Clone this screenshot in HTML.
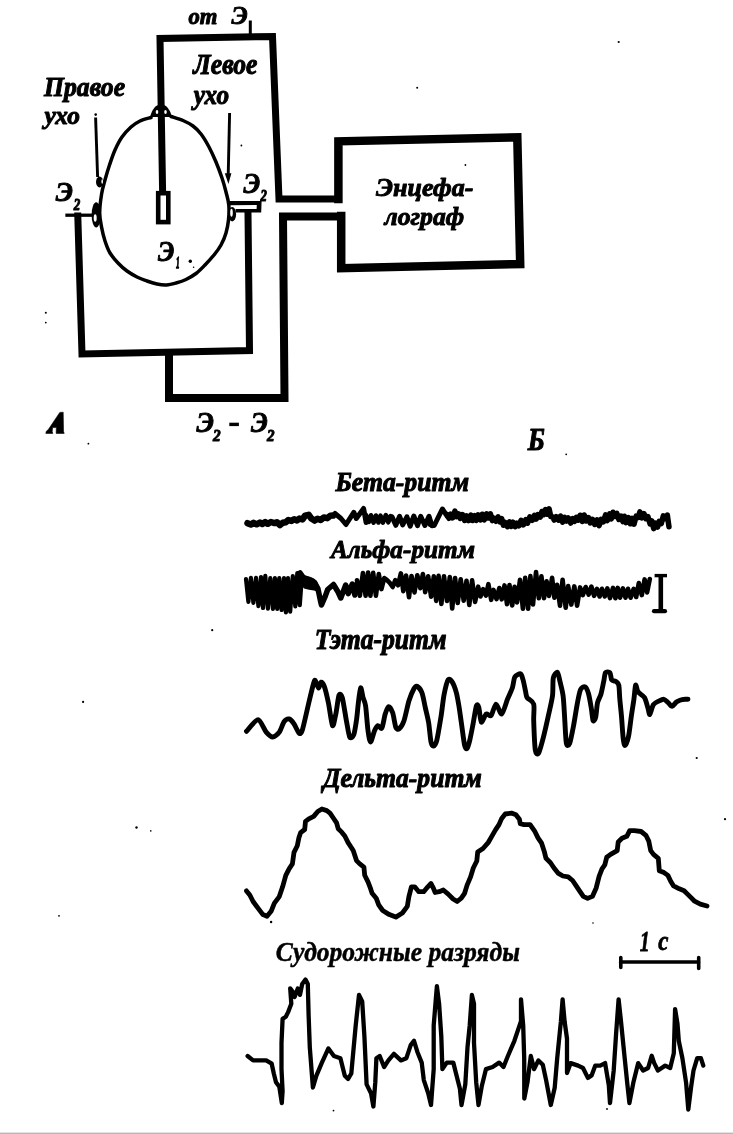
<!DOCTYPE html>
<html><head><meta charset="utf-8"><title>EEG</title>
<style>
html,body{margin:0;padding:0;background:#fff;}
body{width:733px;height:1134px;overflow:hidden;position:relative;}
svg{position:absolute;left:0;top:0;}
text{font-family:"Liberation Serif",serif;font-weight:bold;font-style:italic;fill:#000;}
.w{fill:none;stroke:#000;stroke-linejoin:round;stroke-linecap:round;}
</style></head><body>
<svg width="733" height="1134" viewBox="0 0 733 1134">
<path fill="none" stroke="#000" stroke-linejoin="miter" stroke-linecap="square" stroke-width="7" d="M162.6,191 L160,38.5 L272.5,36.5 L279,199 L336,199"/>
<path fill="none" stroke="#000" stroke-linejoin="miter" stroke-linecap="square" stroke-width="3" d="M250.3,22 L250.3,34"/>
<path fill="none" stroke="#000" stroke-linejoin="miter" stroke-linecap="square" stroke-width="8.5" d="M338.4,199 L338.4,141.3 L517.3,137.3 L520.2,264 L341.2,268.2 L341.2,216"/>
<path fill="none" stroke="#000" stroke-linejoin="miter" stroke-linecap="square" stroke-width="8" d="M341,216.4 L283,216.4 L284.5,398 L169,398 L169,354"/>
<path fill="none" stroke="#000" stroke-linejoin="miter" stroke-linecap="square" stroke-width="7" d="M77.8,216 L82,354 L249.5,350.5 L248,213.5"/>
<path fill="none" stroke="#000" stroke-width="3.5" stroke-linecap="round" d="M151.0,117.5 C149.2,118.1 143.3,119.4 140.0,121.0 C136.7,122.6 134.0,124.3 131.0,127.0 C128.0,129.7 124.7,133.2 122.0,137.0 C119.3,140.8 117.1,145.3 115.0,150.0 C112.9,154.7 111.2,160.0 109.5,165.0 C107.8,170.0 106.3,175.2 105.0,180.0 C103.7,184.8 102.5,188.5 101.6,194.0 C100.7,199.5 99.7,207.4 99.7,213.0 C99.7,218.6 100.7,222.6 101.6,227.3 C102.5,232.0 103.6,236.7 105.0,241.0 C106.4,245.3 107.8,249.3 110.0,253.0 C112.2,256.7 115.2,260.0 118.0,263.0 C120.8,266.0 123.8,268.7 127.0,271.0 C130.2,273.3 133.7,275.3 137.0,277.0 C140.3,278.7 143.7,279.8 147.0,281.0 C150.3,282.2 153.8,283.3 157.0,284.0 C160.2,284.7 163.3,285.2 166.5,285.0 C169.7,284.8 172.8,283.9 176.0,283.0 C179.2,282.1 182.7,281.1 186.0,279.5 C189.3,277.9 192.8,275.9 196.0,273.5 C199.2,271.1 202.0,268.1 205.0,265.0 C208.0,261.9 211.3,258.3 214.0,255.0 C216.7,251.7 219.0,248.7 221.0,245.0 C223.0,241.3 224.8,237.2 226.0,233.0 C227.2,228.8 228.0,224.7 228.5,220.0 C229.0,215.3 229.2,209.7 228.8,205.0 C228.4,200.3 227.1,196.5 226.0,192.0 C224.9,187.5 223.7,183.0 222.0,178.0 C220.3,173.0 218.2,167.2 216.0,162.0 C213.8,156.8 211.5,151.7 209.0,147.0 C206.5,142.3 203.7,137.5 201.0,134.0 C198.3,130.5 196.0,128.2 193.0,126.0 C190.0,123.8 186.7,122.1 183.0,120.5 C179.3,118.9 173.0,117.2 171.0,116.5"/>
<path fill="#000" d="M150,117 C152,110 155,104.5 161,104.5 C167,104.5 170,110 172,117 Z"/>
<ellipse cx="157" cy="112" rx="1.3" ry="2" fill="#fff"/><ellipse cx="165.5" cy="112" rx="1.3" ry="2" fill="#fff"/>
<rect x="158.2" y="193.2" width="10.1" height="28.9" fill="#fff" stroke="#000" stroke-width="4.6"/>
<path fill="none" stroke="#000" stroke-width="2.9" d="M95.6,117.5 L97.6,177"/>
<circle cx="95.7" cy="114.6" r="1.3" fill="#000"/>
<ellipse cx="99.6" cy="182" rx="3.6" ry="5.4" fill="#000"/>
<ellipse cx="102.2" cy="181.5" rx="0.8" ry="2.2" fill="#fff"/>
<path fill="none" stroke="#000" stroke-width="2.9" d="M229.6,113 L228.2,176"/>
<path fill="#000" d="M224.8,173.2 L231.4,173.2 L228.4,184 Z"/>
<circle cx="241.4" cy="145.5" r="0.9" fill="#000"/>
<path fill="none" stroke="#000" stroke-linejoin="miter" stroke-linecap="square" stroke-width="3.3" d="M67,215.2 L92,215.2"/>
<ellipse cx="96.2" cy="214.8" rx="4.6" ry="12.6" fill="#000"/>
<ellipse cx="95.2" cy="218" rx="1.5" ry="3.8" fill="#fff"/>
<path fill="#000" d="M229.4,200.9 L261.6,200.9 L261.2,212.4 L235.6,212.6 L235.6,209 L256.6,209 L256.8,205 L229.6,205.2 Z"/>
<ellipse cx="232.2" cy="214.2" rx="3.9" ry="7.2" fill="#000"/>
<ellipse cx="231.5" cy="212.8" rx="1.3" ry="4" fill="#fff"/>
<rect x="229.3" y="422.7" width="9.6" height="3.4" fill="#000"/>
<path fill="#000" stroke="#000" stroke-width="0.6" stroke-linejoin="round" d="M45.8,433.4 L46.3,431.3 L48.3,429.6 L59.8,412.4 L63.2,412.2 L63.5,431.2 L64.2,433.4 L56.2,433.4 L56.2,431.6 L56.4,427.6 L52.6,427.6 L52.2,431.6 L52.8,433.4 Z"/>
<circle cx="190.3" cy="261.3" r="1.7" fill="#000"/><circle cx="193.6" cy="267.2" r="0.8" fill="#000"/>
<circle cx="45.8" cy="312.7" r="1.0" fill="#000"/>
<circle cx="45.8" cy="322.6" r="0.9" fill="#000"/>
<circle cx="88.4" cy="443.7" r="0.9" fill="#000"/>
<circle cx="83.1" cy="701.9" r="1.1" fill="#000"/>
<circle cx="212.2" cy="630.2" r="1.1" fill="#000"/>
<circle cx="136.5" cy="827.5" r="1.2" fill="#000"/>
<circle cx="150.8" cy="830.9" r="0.8" fill="#000"/>
<circle cx="59.0" cy="915.8" r="0.9" fill="#000"/>
<circle cx="618.7" cy="42.0" r="1.1" fill="#000"/>
<circle cx="417.2" cy="87.8" r="1.0" fill="#000"/>
<circle cx="465.4" cy="165.0" r="0.9" fill="#000"/>
<circle cx="566.2" cy="454.3" r="0.9" fill="#000"/>
<circle cx="696.7" cy="758.0" r="1.1" fill="#000"/>
<circle cx="725.0" cy="819.2" r="1.1" fill="#000"/>
<circle cx="593.0" cy="923.0" r="0.8" fill="#000"/>
<circle cx="607.0" cy="1109.0" r="0.9" fill="#000"/>
<circle cx="271.1" cy="922.0" r="1.2" fill="#000"/>
<circle cx="333.5" cy="1110.6" r="0.9" fill="#000"/>
<path class="w" stroke-width="6.5" d="M247.5,523.2 L250.9,524.6 L253.6,522.8 L256.6,524.3 L259.9,522.5 L262.3,524.0 L265.3,522.1 L267.7,523.8 L270.9,522.0 L274.5,523.1 L276.9,522.2 L280.0,525.1 L282.8,522.8 L285.7,522.3 L288.4,520.0 L291.4,520.9 L294.1,519.3 L297.0,520.4 L299.4,518.6 L302.5,519.4 L305.1,515.6 L308.6,514.8 L311.4,518.6 L314.6,520.6 L317.5,518.7 L320.7,520.0 L323.8,517.4 L327.2,518.2 L330.3,515.7 L333.0,515.6"/>
<path class="w" stroke-width="5" d="M335.0,513.5 L341.0,518.5 L346.0,524.5 L353.8,512.3 L356.3,518.5 L363.6,508.5 L366.1,522.5"/>
<path class="w" stroke-width="4.6" d="M366.0,515.1 L368.9,521.9 L370.9,515.3 L373.6,522.6 L375.9,515.5 L378.4,522.5 L380.5,515.7 L382.9,522.6 L385.8,515.1 L388.3,522.3 L390.5,516.1"/>
<path class="w" stroke-width="5" d="M392.0,516.9 L395.8,525.3 L399.6,516.3 L402.7,524.8 L406.9,516.8 L410.2,526.2 L413.8,516.0 L417.5,525.7 L420.7,516.3 L424.9,525.5 L429.0,516.3 L432.0,525.8"/>
<path class="w" stroke-width="5" d="M430.0,524.5 L434.2,525.5 L442.4,509.0 L447.3,516.4"/>
<path class="w" stroke-width="5.5" d="M447.3,514.6 L449.0,518.3 L450.7,514.2 L452.6,517.9 L454.9,511.0 L456.6,516.6 L458.5,513.8 L460.2,518.4 L462.5,514.7 L464.7,520.5 L466.5,515.8 L468.6,520.6 L470.9,515.0 L472.5,520.5 L474.7,515.7 L476.4,520.3 L478.1,514.8 L480.4,520.0 L482.2,514.2 L484.3,519.9 L486.6,513.8 L488.5,518.0 L490.4,513.8 L492.3,520.6 L493.9,518.1 L496.0,521.3 L498.1,516.8 L499.9,521.9 L501.7,518.6 L503.4,525.3 L505.3,522.5 L507.5,526.7 L509.5,521.8 L511.2,526.4 L513.0,522.2 L515.1,526.7 L516.9,523.1 L518.9,525.8 L521.1,520.3 L523.4,524.9 L525.8,519.5 L527.6,523.2 L529.8,516.8 L532.2,520.3 L534.4,515.3 L536.2,519.1 L537.9,514.5 L540.3,517.0 L541.9,511.5 L543.6,514.7 L545.5,509.5 L547.2,514.2 L549.1,508.8 L550.8,516.6 L552.5,516.8 L554.2,520.1 L556.2,516.6 L558.6,520.2 L560.6,516.0 L562.6,522.1 L564.6,517.4 L566.5,521.0 L568.4,518.0 L570.7,523.1 L572.7,518.5 L574.5,521.4 L576.3,517.3 L578.6,520.2 L580.2,515.2 L582.3,521.4 L584.2,515.0 L586.3,521.0 L588.5,517.6 L590.2,522.9 L592.5,519.4 L594.8,524.5 L597.0,519.8 L599.1,525.6 L601.1,519.3 L603.3,521.9 L605.6,514.9 L607.3,520.6 L609.6,513.9 L611.3,518.9 L613.0,512.2 L615.1,516.5 L616.8,513.3 L618.9,519.5 L621.2,516.1 L622.8,521.6 L624.4,516.2 L626.1,522.7 L628.4,517.5 L630.4,523.8 L632.2,518.4 L634.0,524.2 L636.2,516.1 L638.3,517.3 L639.9,511.8 L641.9,517.8 L644.0,513.7 L645.9,518.7 L647.9,516.6 L650.1,523.9 L651.8,520.8 L653.7,528.6 L655.6,523.2 L657.6,527.1 L659.2,521.4 L661.3,523.6 L663.3,515.9 L665.6,518.6 L667.3,515.0 L669.0,526.8"/>
<path class="w" stroke-width="4.2" d="M246.0,579.1 L248.4,601.9 L250.9,577.9 L253.4,602.8 L256.0,577.9 L258.4,606.1 L261.0,577.0 L263.0,608.0 L265.3,575.8 L267.9,608.6 L270.3,578.1 L272.9,608.9 L274.9,578.1 L277.2,608.9 L279.3,578.1 L281.6,610.0 L284.0,578.1 L285.9,612.3 L288.0,578.1 L290.2,611.7 L292.8,576.2 L295.3,606.4 L297.3,573.1 L299.8,605.2 L301.9,576.0"/>
<path class="w" stroke-width="5.5" d="M300.0,573.0 L303.2,577.3 L309.7,580.0 L314.6,582.5 L317.9,588.5 L320.4,600.5 L321.5,605.0 L325.3,596.1 L327.7,589.5 L333.5,584.5 L337.6,591.2 L340.8,598.0 L345.7,585.0 L348.2,593.6 L352.3,584.0 L354.9,595.0 L357.4,583.0"/>
<path fill="#000" d="M302,575.5 L306,576 L310,576.8 L314,578.5 L317,581.5 L319.5,588 L318,592 L314,590.5 L309,589.8 L304,588.5 L302,586 Z"/>
<path class="w" stroke-width="4.6" d="M357.0,580.3 L359.9,595.7 L362.9,573.0 L365.6,595.7 L368.1,572.5 L370.4,595.7 L373.2,572.9 L375.9,595.7 L378.8,574.1 L381.4,589.1 L384.3,578.0 L386.8,579.8 L389.8,582.9 L392.7,587.0 L395.3,580.1 L398.0,585.3 L400.9,573.4 L403.3,591.2 L406.1,575.5 L409.0,597.3 L411.5,576.0 L414.5,592.4 L417.3,575.2 L420.3,588.2 L422.9,574.0 L425.2,592.1 L428.2,576.3 L431.1,596.6 L433.8,576.2 L436.2,600.9 L438.6,575.9 L441.4,603.9 L444.0,576.2 L447.0,600.9 L449.8,577.0 L452.2,608.5 L455.1,578.0 L457.7,603.0 L460.7,579.3 L463.7,600.8 L466.5,580.7 L469.3,605.0 L472.1,580.4 L475.1,601.9 L478.2,586.7 L480.5,596.5 L483.1,589.2 L485.9,595.6 L488.4,584.2 L491.2,599.8 L493.5,589.9 L496.5,599.1 L499.3,588.0 L501.7,599.3 L504.5,585.4 L507.0,604.2 L509.5,585.0 L512.2,605.5 L514.6,586.9 L517.0,602.5 L520.0,579.9 L522.9,608.8 L525.2,577.9 L528.1,608.8 L530.4,576.1 L533.0,604.5 L536.0,572.1 L538.8,598.2 L541.4,576.2 L544.0,598.2 L546.6,581.3 L549.0,595.9 L552.1,577.8 L554.4,597.8 L557.1,584.8 L560.0,605.7 L562.6,579.8 L565.7,607.7 L568.2,586.1 L571.3,604.6 L574.3,586.4 L577.1,605.6 L580.1,587.4 L582.8,595.1 L585.7,587.0 L588.7,594.6 L591.4,586.6 L594.1,595.8 L596.9,588.8 L599.6,596.5 L601.9,588.8 L604.8,596.3 L607.3,588.4 L610.0,598.1 L613.0,587.9 L615.4,598.2 L617.7,587.9 L620.1,597.7 L622.9,588.4 L625.5,597.7 L628.0,588.8 L630.6,597.7 L633.7,588.8 L636.2,597.0 L638.8,583.1 L641.8,595.1 L644.6,579.4 L647.1,592.4 L649.8,579.0"/>
<path fill="none" stroke="#000" stroke-width="3.4" stroke-linecap="butt" d="M654.6,575.6 L667,575.6"/><path fill="none" stroke="#000" stroke-width="4.6" stroke-linecap="butt" d="M660.8,575 L660.8,611"/><path fill="none" stroke="#000" stroke-width="4.2" stroke-linecap="round" d="M654,611.2 L665,611.2"/>
<path class="w" stroke-width="4.9" d="M246.5,731.3 C248.0,729.8 255.4,719.7 258.0,719.8 C260.6,719.9 264.2,729.8 266.2,732.1 C268.2,734.4 271.0,737.0 272.7,737.0 C274.4,737.0 277.8,734.2 279.3,732.1 C280.8,730.0 282.9,723.2 284.2,721.5 C285.5,719.8 287.8,718.7 289.1,719.0 C290.4,719.3 292.7,722.0 294.0,723.9 C295.3,725.8 297.9,732.1 299.0,733.0 C300.1,733.9 300.9,734.5 302.2,730.5 C303.5,726.5 307.3,709.0 308.8,702.7 C310.3,696.4 312.8,685.9 313.7,683.0 C314.6,680.1 314.6,679.9 315.3,680.6 C316.0,681.3 317.8,687.8 318.6,688.0 C319.4,688.2 320.2,682.4 321.0,682.2 C321.8,682.0 323.3,683.6 324.3,686.3 C325.3,689.0 327.3,697.5 328.4,702.7 C329.5,707.9 331.5,724.1 332.5,725.6 C333.5,727.1 334.9,718.1 335.8,714.1 C336.7,710.1 338.1,697.5 339.0,695.3 C339.9,693.1 341.3,694.3 342.3,697.7 C343.3,701.1 345.4,715.5 346.4,720.7 C347.4,725.9 348.7,735.1 349.7,737.0 C350.7,738.9 352.9,736.9 353.8,734.6 C354.7,732.3 355.9,724.0 356.5,720.0 C357.1,716.0 357.7,708.6 358.2,704.3 C358.7,700.0 359.9,688.8 360.6,687.9 C361.3,687.0 362.4,695.3 363.1,697.7 C363.8,700.1 364.9,701.5 365.6,705.9 C366.3,710.3 367.3,725.7 368.0,730.5 C368.7,735.3 369.6,742.0 370.5,742.0 C371.4,742.0 373.6,732.7 374.6,730.5 C375.6,728.3 376.8,725.9 377.8,725.6 C378.8,725.3 380.9,729.5 381.9,728.0 C382.9,726.5 384.3,716.9 385.2,714.1 C386.1,711.3 387.5,706.9 388.5,706.7 C389.5,706.5 391.6,709.8 392.6,712.5 C393.6,715.2 394.9,725.0 395.8,727.2 C396.7,729.4 398.0,729.8 399.1,728.9 C400.2,728.0 402.7,724.4 404.0,720.7 C405.3,717.0 407.6,705.3 408.9,701.0 C410.2,696.7 412.8,690.7 413.9,688.7 C415.0,686.7 416.0,685.8 417.1,686.3 C418.2,686.8 420.9,690.0 422.0,692.8 C423.1,695.6 424.4,703.7 425.3,707.6 C426.2,711.5 427.8,717.7 428.6,722.3 C429.4,726.9 430.3,738.8 431.0,742.0 C431.7,745.2 432.7,746.2 433.5,746.0 C434.3,745.8 435.8,744.1 436.8,740.3 C437.8,736.5 439.9,723.5 440.9,717.4 C441.9,711.3 443.1,699.5 444.1,694.5 C445.1,689.5 447.1,681.3 448.2,679.7 C449.3,678.1 451.2,680.5 452.3,682.2 C453.4,683.9 455.5,689.6 456.4,692.8 C457.3,696.0 458.2,702.0 458.9,705.9 C459.6,709.8 460.5,717.1 461.3,722.3 C462.1,727.5 463.8,741.7 464.6,745.2 C465.4,748.7 466.3,749.2 467.0,748.5 C467.7,747.8 469.0,743.4 469.8,740.1 C470.6,736.8 472.2,728.4 473.1,723.8 C474.0,719.2 475.6,708.0 476.4,705.8 C477.2,703.6 478.1,705.2 478.8,707.4 C479.5,709.6 480.3,721.2 481.3,722.1 C482.3,723.0 484.9,714.9 486.2,714.0 C487.5,713.1 489.8,716.9 491.1,715.6 C492.4,714.3 494.6,704.3 496.0,704.1 C497.4,703.9 500.2,714.7 501.7,714.0 C503.2,713.3 506.1,702.7 507.5,699.2 C508.9,695.7 511.4,690.6 512.4,687.7 C513.4,684.8 513.7,679.0 514.8,677.1 C515.9,675.2 519.5,673.5 520.6,673.8 C521.7,674.1 522.3,677.3 523.0,679.6 C523.7,681.9 525.0,688.6 525.5,691.0 C526.0,693.4 526.0,695.9 527.1,697.6 C528.2,699.3 532.8,701.0 533.7,704.1 C534.6,707.2 533.5,714.4 533.7,720.5 C533.9,726.6 534.6,745.6 535.3,750.0 C536.0,754.4 537.5,754.9 538.6,753.2 C539.7,751.5 542.2,741.9 543.5,736.9 C544.8,731.9 547.2,721.1 548.4,715.6 C549.6,710.1 551.8,700.9 552.5,695.9 C553.2,690.9 552.6,681.1 553.3,677.9 C554.0,674.7 556.5,671.8 557.4,672.2 C558.3,672.6 559.1,678.0 559.9,681.2 C560.7,684.4 562.4,690.7 563.1,695.9 C563.8,701.1 564.4,714.2 564.8,720.5 C565.2,726.8 565.7,740.3 566.4,743.4 C567.1,746.5 568.8,745.7 569.7,743.4 C570.6,741.1 572.5,731.2 573.5,726.0 C574.5,720.8 576.2,709.6 577.1,704.7 C578.0,699.8 579.5,692.0 580.6,689.6 C581.7,687.2 584.0,686.3 585.1,686.9 C586.2,687.5 587.8,691.2 588.6,694.0 C589.4,696.8 590.7,704.7 591.3,708.2 C591.9,711.7 592.5,719.4 593.1,720.6 C593.7,721.8 595.1,719.5 595.7,717.1 C596.3,714.7 596.8,706.0 597.5,702.9 C598.2,699.8 600.2,696.8 601.0,694.0 C601.8,691.2 603.1,684.4 603.7,681.6 C604.3,678.8 604.7,673.9 605.5,672.7 C606.3,671.5 609.1,671.8 609.9,672.7 C610.7,673.6 610.9,678.6 611.7,679.8 C612.5,681.0 615.2,680.9 616.1,681.6 C617.0,682.3 618.3,683.1 618.8,685.2 C619.3,687.3 619.4,693.6 619.7,697.6 C620.0,701.6 620.9,709.9 621.4,715.3 C621.9,720.7 622.7,734.4 623.2,738.4 C623.7,742.4 624.3,745.7 625.0,745.5 C625.7,745.3 627.7,740.4 628.5,736.6 C629.3,732.8 630.5,722.1 631.2,717.1 C631.9,712.1 633.3,703.6 633.9,699.3 C634.5,695.0 635.1,686.4 635.6,685.2 C636.1,684.0 636.9,689.4 637.4,690.5 C637.9,691.6 638.3,692.2 639.2,693.1 C640.1,694.0 643.3,695.6 644.5,697.6 C645.7,699.6 647.3,706.0 648.0,708.2 C648.7,710.4 649.1,714.9 649.8,714.4 C650.5,713.9 652.2,706.5 653.4,704.7 C654.6,702.9 657.3,701.8 658.7,701.1 C660.1,700.4 662.7,699.1 664.0,699.3 C665.3,699.5 667.3,702.0 668.4,702.9 C669.5,703.8 670.9,706.5 672.0,706.4 C673.1,706.3 675.3,702.8 676.4,702.0 C677.5,701.2 678.8,700.6 680.0,700.2 C681.2,699.8 684.2,699.4 685.3,699.3 C686.4,699.2 687.6,699.3 688.0,699.3"/>
<path class="w" stroke-width="4.8" d="M246.5,890.9 L249.8,895.0 L253.1,901.5 L258.0,908.1 L262.9,914.6 L267.0,916.2 L271.1,911.3 L274.4,903.1 L279.3,896.6 L282.6,886.8 L285.8,875.3 L289.1,868.8 L292.4,863.9 L294.0,852.4 L297.3,845.8 L298.9,837.7 L300.6,832.7 L304.7,829.5 L305.5,821.3 L308.8,818.8 L313.7,816.4 L317.8,811.5 L321.9,809.0 L326.8,810.6 L330.0,813.1 L333.3,818.0 L336.6,822.9 L338.2,828.7 L341.5,831.9 L344.8,836.0 L348.1,842.6 L351.3,847.5 L353.3,850.8 L356.5,860.6 L359.8,863.9 L363.9,867.1 L364.7,875.3 L368.0,881.9 L370.5,888.4 L372.1,893.3 L376.2,898.2 L378.7,904.8 L382.7,910.5 L389.3,914.6 L395.8,917.1 L402.4,913.0 L407.3,906.4 L408.9,896.6 L411.4,886.8 L414.7,886.8 L418.8,891.7 L423.7,891.7 L427.8,886.8 L431.0,883.5 L433.5,888.4 L435.1,892.5 L439.2,891.7 L443.3,890.0 L448.2,894.1 L453.1,899.0 L457.2,901.5 L461.3,898.2 L464.6,893.3 L467.1,885.1 L470.6,876.9 L473.3,868.0 L476.8,861.0 L477.7,852.1 L483.0,848.5 L488.4,842.3 L491.9,836.1 L495.5,829.9 L499.0,824.6 L501.7,818.4 L505.2,814.0 L511.4,813.1 L515.9,814.8 L519.4,819.3 L520.3,823.7 L523.9,824.6 L530.1,824.6 L534.5,830.8 L538.0,837.9 L541.6,843.2 L544.2,851.2 L546.0,858.3 L550.5,862.7 L554.0,868.0 L558.4,873.4 L562.9,876.0 L568.2,876.9 L572.6,880.5 L576.2,885.8 L579.7,891.1 L583.3,896.4 L587.6,898.4 L592.4,896.4 L596.2,887.9 L599.1,876.4 L602.0,868.8 L604.8,864.9 L606.7,857.3 L610.6,854.4 L617.2,850.6 L618.2,842.0 L622.0,838.2 L626.8,836.3 L629.7,830.6 L634.4,830.6 L641.1,831.5 L645.9,835.3 L648.8,841.1 L650.7,850.6 L653.5,854.4 L658.3,858.3 L659.3,870.7 L664.0,872.6 L667.9,875.4 L670.7,881.2 L673.6,885.9 L679.3,888.8 L684.1,890.7 L687.0,893.6 L690.8,897.4 L694.6,901.2 L700.3,904.1 L707.0,906.0"/>
<path class="w" stroke-width="4.3" stroke-linejoin="miter" d="M247.6,1056.0 L253.1,1060.4 L259.6,1060.4 L266.2,1060.4 L271.7,1063.7 L273.8,1073.5 L276.0,1082.2 L279.3,1086.6 L281.8,1103.0 L282.6,1091.0 L281.5,1069.1 L281.5,1043.0 L282.6,1018.9 L285.8,1016.8 L288.0,1012.4 L291.3,1003.7 L290.2,988.4 L293.5,992.7 L294.6,997.1 L297.8,988.4 L300.0,994.9 L302.2,984.0 L305.5,979.6 L307.8,984.0 L308.6,1014.6 L309.8,1047.3 L312.9,1087.5 L316.4,1075.7 L321.9,1062.6 L328.4,1048.4 L333.9,1056.0 L340.4,1058.2 L344.8,1075.7 L348.1,1079.0 L351.3,1073.5 L355.7,1025.5 L359.0,994.9 L362.2,1001.5 L364.4,1036.4 L366.6,1084.4 L371.0,1093.2 L373.4,1106.5 L375.3,1082.2 L376.4,1058.2 L379.7,1056.0 L384.1,1067.0 L388.4,1060.4 L393.9,1053.9 L400.9,1060.4 L406.4,1058.2 L410.7,1045.1 L414.0,1040.8 L417.3,1051.7 L421.7,1062.6 L423.8,1080.1 L428.2,1093.2 L431.0,1105.0 L433.7,1069.1 L433.7,1025.5 L435.8,999.3 L436.9,986.2 L439.1,1003.7 L441.3,1036.4 L442.4,1069.1 L446.8,1062.6 L453.3,1062.6 L456.6,1075.7 L459.9,1088.8 L461.5,1105.0 L465.3,1084.4 L467.5,1047.3 L469.7,1025.5 L471.9,994.9 L474.0,1003.7 L474.0,1043.0 L476.2,1082.2 L478.5,1105.0 L481.7,1086.6 L486.0,1069.1 L492.6,1067.0 L499.1,1062.6 L503.5,1067.0 L507.9,1056.0 L514.4,1040.8 L521.0,1021.1 L521.0,999.3 L523.2,1025.5 L524.2,1058.2 L524.3,1098.5 L527.5,1082.2 L530.8,1056.0 L534.1,1069.1 L538.4,1060.4 L542.8,1064.8 L546.1,1080.1 L550.8,1105.0 L554.7,1087.7 L557.2,1058.2 L560.9,1021.4 L562.6,999.3 L564.6,1021.4 L567.0,1038.6 L567.0,1073.0 L570.7,1063.1 L578.1,1065.6 L583.0,1068.0 L587.9,1077.9 L591.6,1075.4 L595.3,1065.6 L600.2,1065.6 L605.1,1063.1 L608.8,1085.2 L610.0,1103.0 L613.7,1070.5 L616.1,1033.7 L618.6,999.3 L621.0,1021.4 L624.7,1058.2 L627.2,1082.8 L629.4,1103.0 L633.3,1082.8 L638.2,1063.1 L643.1,1070.5 L648.1,1068.0 L651.7,1055.8 L654.2,1063.1 L657.9,1070.5 L665.2,1065.6 L670.2,1068.0 L673.8,1053.3 L675.1,1009.1 L677.5,1023.9 L678.8,1041.0 L682.4,1058.2 L686.1,1082.8 L688.3,1109.5 L691.0,1087.7 L693.5,1070.5 L697.2,1058.2 L700.9,1058.2 L703.3,1065.6"/>
<path fill="none" stroke="#000" stroke-width="3.6" stroke-linecap="round" d="M620.5,962 L699,962 M620.8,957.5 L620.8,967.5 M698.7,957.5 L698.7,968.5"/>
<g opacity="0.999">
<text font-size="100" stroke="#000" stroke-width="4.45" stroke-linejoin="round" transform="matrix(0.2266,0,0,0.2229,188.50,24.48)">от</text>
<text font-size="100" stroke="#000" stroke-width="3.94" stroke-linejoin="round" transform="matrix(0.2477,0,0,0.2597,231.50,24.44)">Э</text>
<text font-size="100" stroke="#000" stroke-width="3.64" stroke-linejoin="round" transform="matrix(0.2561,0,0,0.2939,193.22,74.41)">Левое</text>
<text font-size="100" stroke="#000" stroke-width="3.83" stroke-linejoin="round" transform="matrix(0.2520,0,0,0.2696,193.67,103.57)">ухо</text>
<text font-size="100" stroke="#000" stroke-width="3.71" stroke-linejoin="round" transform="matrix(0.2571,0,0,0.2814,43.96,96.29)">Правое</text>
<text font-size="100" stroke="#000" stroke-width="3.87" stroke-linejoin="round" transform="matrix(0.2539,0,0,0.2623,44.39,124.43)">ухо</text>
<text font-size="100" stroke="#000" stroke-width="3.66" stroke-linejoin="round" transform="matrix(0.2631,0,0,0.2836,55.80,200.72)">Э</text>
<text font-size="100" stroke="#000" stroke-width="6.98" stroke-linejoin="round" transform="matrix(0.1288,0,0,0.1576,73.66,209.60)">2</text>
<text font-size="100" stroke="#000" stroke-width="3.64" stroke-linejoin="round" transform="matrix(0.2554,0,0,0.2940,243.50,192.91)">Э</text>
<text font-size="100" stroke="#000" stroke-width="6.67" stroke-linejoin="round" transform="matrix(0.1269,0,0,0.1727,260.45,200.80)">2</text>
<text font-size="100" stroke="#000" stroke-width="3.62" stroke-linejoin="round" transform="matrix(0.2492,0,0,0.3030,158.10,260.50)">Э</text>
<text font-size="100" stroke="#000" stroke-width="8.71" stroke-linejoin="round" transform="matrix(0.0720,0,0,0.1576,176.10,268.40)">1</text>
<text font-size="100" stroke="#000" stroke-width="3.83" stroke-linejoin="round" transform="matrix(0.2609,0,0,0.2611,376.10,195.82)">Энцефа-</text>
<text font-size="100" stroke="#000" stroke-width="3.86" stroke-linejoin="round" transform="matrix(0.2576,0,0,0.2611,384.53,224.52)">лограф</text>
<text font-size="100" stroke="#000" stroke-width="3.58" stroke-linejoin="round" transform="matrix(0.2677,0,0,0.2910,196.40,432.21)">Э</text>
<text font-size="100" stroke="#000" stroke-width="6.40" stroke-linejoin="round" transform="matrix(0.1519,0,0,0.1606,213.10,440.70)">2</text>
<text font-size="100" stroke="#000" stroke-width="3.58" stroke-linejoin="round" transform="matrix(0.2569,0,0,0.3015,251.00,431.50)">Э</text>
<text font-size="100" stroke="#000" stroke-width="6.23" stroke-linejoin="round" transform="matrix(0.1500,0,0,0.1712,267.00,440.70)">2</text>
<text font-size="100" stroke="#000" stroke-width="3.39" stroke-linejoin="round" transform="matrix(0.2692,0,0,0.3200,527.77,450.20)">Б</text>
<text font-size="100" stroke="#000" stroke-width="3.76" stroke-linejoin="round" transform="matrix(0.2574,0,0,0.2744,335.46,490.74)">Бета-ритм</text>
<text font-size="100" stroke="#000" stroke-width="3.89" stroke-linejoin="round" transform="matrix(0.2524,0,0,0.2622,331.01,557.99)">Альфа-ритм</text>
<text font-size="100" stroke="#000" stroke-width="3.68" stroke-linejoin="round" transform="matrix(0.2568,0,0,0.2860,314.70,649.19)">Тэта-ритм</text>
<text font-size="100" stroke="#000" stroke-width="3.77" stroke-linejoin="round" transform="matrix(0.2564,0,0,0.2744,322.95,787.44)">Дельта-ритм</text>
<text font-size="100" stroke="#000" stroke-width="1.91" stroke-linejoin="round" transform="matrix(0.2555,0,0,0.2692,275.85,960.83)">Судорожные разряды</text>
<text font-size="100" stroke="#000" stroke-width="2.88" stroke-linejoin="round" transform="matrix(0.2000,0,0,0.2864,639.65,950.75)">1</text>
<text font-size="100" stroke="#000" stroke-width="2.75" stroke-linejoin="round" transform="matrix(0.2295,0,0,0.2792,658.35,950.47)">с</text>
</g>
<rect x="0" y="1132" width="733" height="1" fill="#e2e2e2"/><rect x="0" y="1133" width="733" height="1" fill="#b8b8b8"/>
</svg>
</body></html>
